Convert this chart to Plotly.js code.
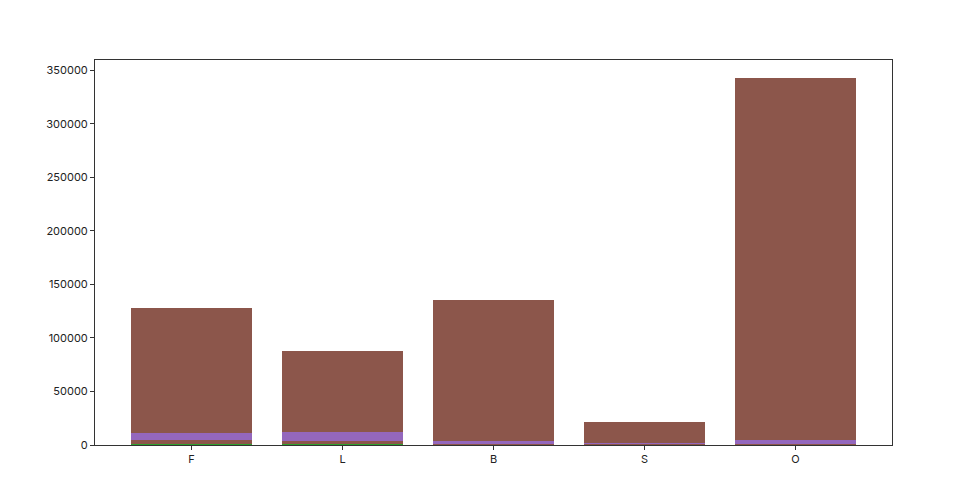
<!DOCTYPE html>
<html>
<head>
<meta charset="utf-8">
<script src="https://cdn.plot.ly/plotly-3.0.1.min.js"></script>
<style>html,body{margin:0;padding:0;background:#fff;}#chart{width:960px;height:501px;}</style>
</head>
<body>
<div id="chart"></div>
<script>
const categories = ["F", "L", "B", "S", "O"];
const seriesGreen = [1000, 1000, 300, 200, 300];
const seriesLowBrown = [3700, 2700, 700, 300, 700];
const seriesPurple = [6500, 8400, 2700, 1000, 3700];
const seriesBrown = [116800, 75600, 131600, 20000, 337700];
const yTicks = [0, 50000, 100000, 150000, 200000, 250000, 300000, 350000];

const mk = (y, color, name) => ({
  type: "bar", x: categories, y: y, name: name,
  marker: {color: color, line: {width: 0}}, hoverinfo: "x+y"
});
const data = [
  mk(seriesGreen, "#2ca02c", "g"),
  mk(seriesLowBrown, "#8c564b", "b1"),
  mk(seriesPurple, "#9467bd", "p"),
  mk(seriesBrown, "#8c564b", "b2")
];
const axisCommon = {
  showline: true, mirror: true, linecolor: "#333", linewidth: 1,
  ticks: "outside", ticklen: 4, tickcolor: "#333", showgrid: false, zeroline: false,
  tickfont: {family: "Inter, DejaVu Sans, sans-serif", size: 11, color: "#222"}
};
const layout = {
  width: 960, height: 501,
  margin: {l: 95, r: 68, t: 60, b: 56},
  paper_bgcolor: "#fff", plot_bgcolor: "#fff",
  barmode: "stack", bargap: 0.2, showlegend: false,
  xaxis: Object.assign({}, axisCommon, {type: "category", range: [-0.64, 4.64]}),
  yaxis: Object.assign({}, axisCommon, {range: [0, 359500], tickvals: yTicks, ticktext: yTicks.map(String)})
};
Plotly.newPlot("chart", data, layout, {displayModeBar: false, staticPlot: true});
</script>
</body>
</html>
